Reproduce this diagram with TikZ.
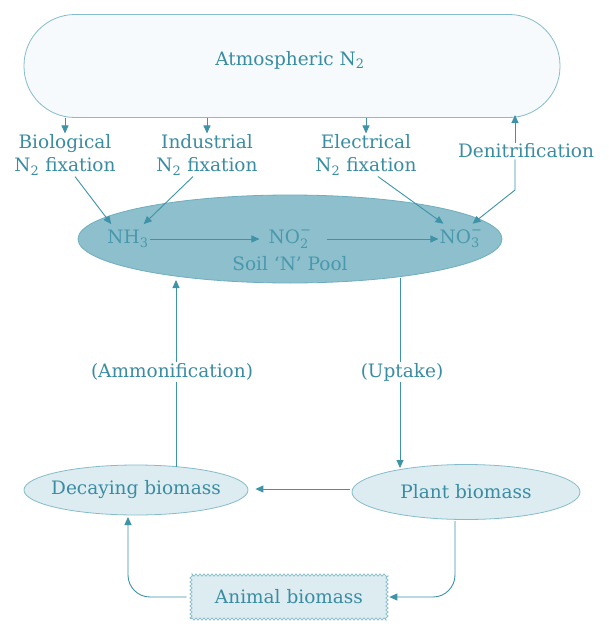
\documentclass[tikz,border=0pt]{standalone}
\usepackage{amsmath}
\usepackage{fontspec}
\setmainfont{DejaVu Serif}
\usetikzlibrary{arrows.meta,decorations.pathmorphing,shapes.geometric}
\definecolor{tealtext}{HTML}{3A8CA2}
\definecolor{tealline}{HTML}{3E93A8}
\definecolor{soilfill}{HTML}{8DBFCC}
\definecolor{soiltext}{HTML}{4A98AD}
\definecolor{soiledge}{HTML}{6FAEBF}
\definecolor{lightfill}{HTML}{DCECF1}
\definecolor{lightedge}{HTML}{86BCCA}
\definecolor{atmfill}{HTML}{F6FAFC}
\newcommand{\ionsub}[2]{$\text{NO}_{\text{#1}}^{\text{#2}}$}
\begin{document}
\begin{tikzpicture}[x=1pt,y=-1pt,
  font=\fontsize{18.5}{23}\selectfont,
  conn/.style={draw=tealline, line width=0.9pt, -{Triangle[length=8pt,width=7pt]}},
  plain/.style={draw=tealline, line width=0.9pt},
  lbl/.style={text=tealtext, align=center, inner sep=1pt},
  intext/.style={text=soiltext, inner sep=1pt},
  bio/.style={ellipse, draw=lightedge, fill=lightfill, text=tealtext, line width=0.8pt,
              inner xsep=-40pt, inner ysep=-6pt}]
\useasboundingbox (0,0) rectangle (609,626);
\fill[white] (0,0) rectangle (609,626);

% atmosphere
\node[draw=lightedge, fill=atmfill, line width=0.8pt, rounded corners=51pt,
      minimum width=536pt, minimum height=103pt, text=tealtext] (atm) at (292,66) {};
\node[lbl] (atmt) at (290,60) {Atmospheric N\textsubscript{2}};

% labels
\node[lbl] (bio) at (65,155) {Biological\\N\textsubscript{2} fixation};
\node[lbl] (ind) at (207,155) {Industrial\\N\textsubscript{2} fixation};
\node[lbl] (ele) at (366,155) {Electrical\\N\textsubscript{2} fixation};
\node[lbl] (den) at (526,151) {Denitrification};

% soil pool
\node[ellipse, draw=soiledge, fill=soilfill, line width=0.8pt,
      minimum width=424pt, minimum height=88pt] (soil) at (290,239) {};
\node[intext] (nh3) at (128,239) {NH\textsubscript{3}};
\node[intext] (no2) at (290,239) {\ionsub{2}{−}};
\node[intext] (no3) at (461,239) {\ionsub{3}{−}};
\node[intext] (pool) at (290,264) {Soil ‘N’ Pool};

% atm -> labels
\draw[conn] (atm.south -| bio) -- (bio.north);
\draw[conn] (atm.south -| ind) -- (ind.north);
\draw[conn] (atm.south -| ele) -- (ele.north);
\coordinate (denx) at (515,0);
\coordinate (atmden) at (515,115);
\draw[conn] (denx |- den.north) -- (atmden);

% labels -> soil
\draw[conn] ([xshift=10pt]bio.south) -- ([xshift=5pt,yshift=5pt]nh3.north west);
\draw[conn] ([xshift=-14pt]ind.south) -- ([xshift=-6pt,yshift=5pt]nh3.north east);
\draw[conn] ([xshift=12pt]ele.south) -- ([xshift=5pt,yshift=5pt]no3.north west);
\coordinate (denbend) at (515,190);
\draw[conn] (denx |- den.south) -- (denbend) -- ([xshift=-11pt,yshift=5pt]no3.north east);

% inside soil
\draw[conn] (nh3.east) -- ([xshift=-8pt]no2.west);
\draw[conn] ([xshift=14pt]no2.east) -- (no3.west);

% biomass
\node[bio, minimum width=224pt, minimum height=50pt] (dec) at (136,490) {Decaying biomass};
\node[bio, minimum width=228pt, minimum height=55pt] (plant) at (466,492) {Plant biomass};
\node[draw=lightedge, fill=lightfill, line width=0.7pt, text=tealtext,
      decorate, decoration={zigzag, segment length=4pt, amplitude=1.2pt},
      minimum width=196pt, minimum height=44pt] (animal) at (289,597) {Animal biomass};

% ammonification / uptake
\node[lbl] (amm) at (172,372) {(Ammonification)};
\node[lbl] (upt) at (402,372) {(Uptake)};
\coordinate (ammx) at (176,0);
\coordinate (uptx) at (400,0);
\coordinate (soilA) at (176,280);
\coordinate (soilU) at (400,278);
\coordinate (plantU) at (400,468);
\coordinate (decA) at (176,467);
\draw[plain] (decA) -- (ammx |- amm.south);
\draw[conn] (ammx |- amm.north) -- (soilA);
\draw[plain] (soilU) -- (uptx |- upt.north);
\draw[conn] (uptx |- upt.south) -- (plantU);

% plant -> decaying
\coordinate (pd) at (350,489);
\draw[conn, shorten >=7pt] (pd) -- (pd -| dec.east);

% curves to/from animal
\coordinate (pl) at (455,521);
\coordinate (plc) at (455,597);
\draw[conn, rounded corners=22pt] (pl) -- (plc) -- ([xshift=2pt]animal.east);
\coordinate (dl) at (128,597);
\coordinate (dd) at (128,517);
\draw[conn, rounded corners=22pt] ([xshift=-4pt]animal.west) -- (dl) -- (dd);
\end{tikzpicture}
\end{document}
